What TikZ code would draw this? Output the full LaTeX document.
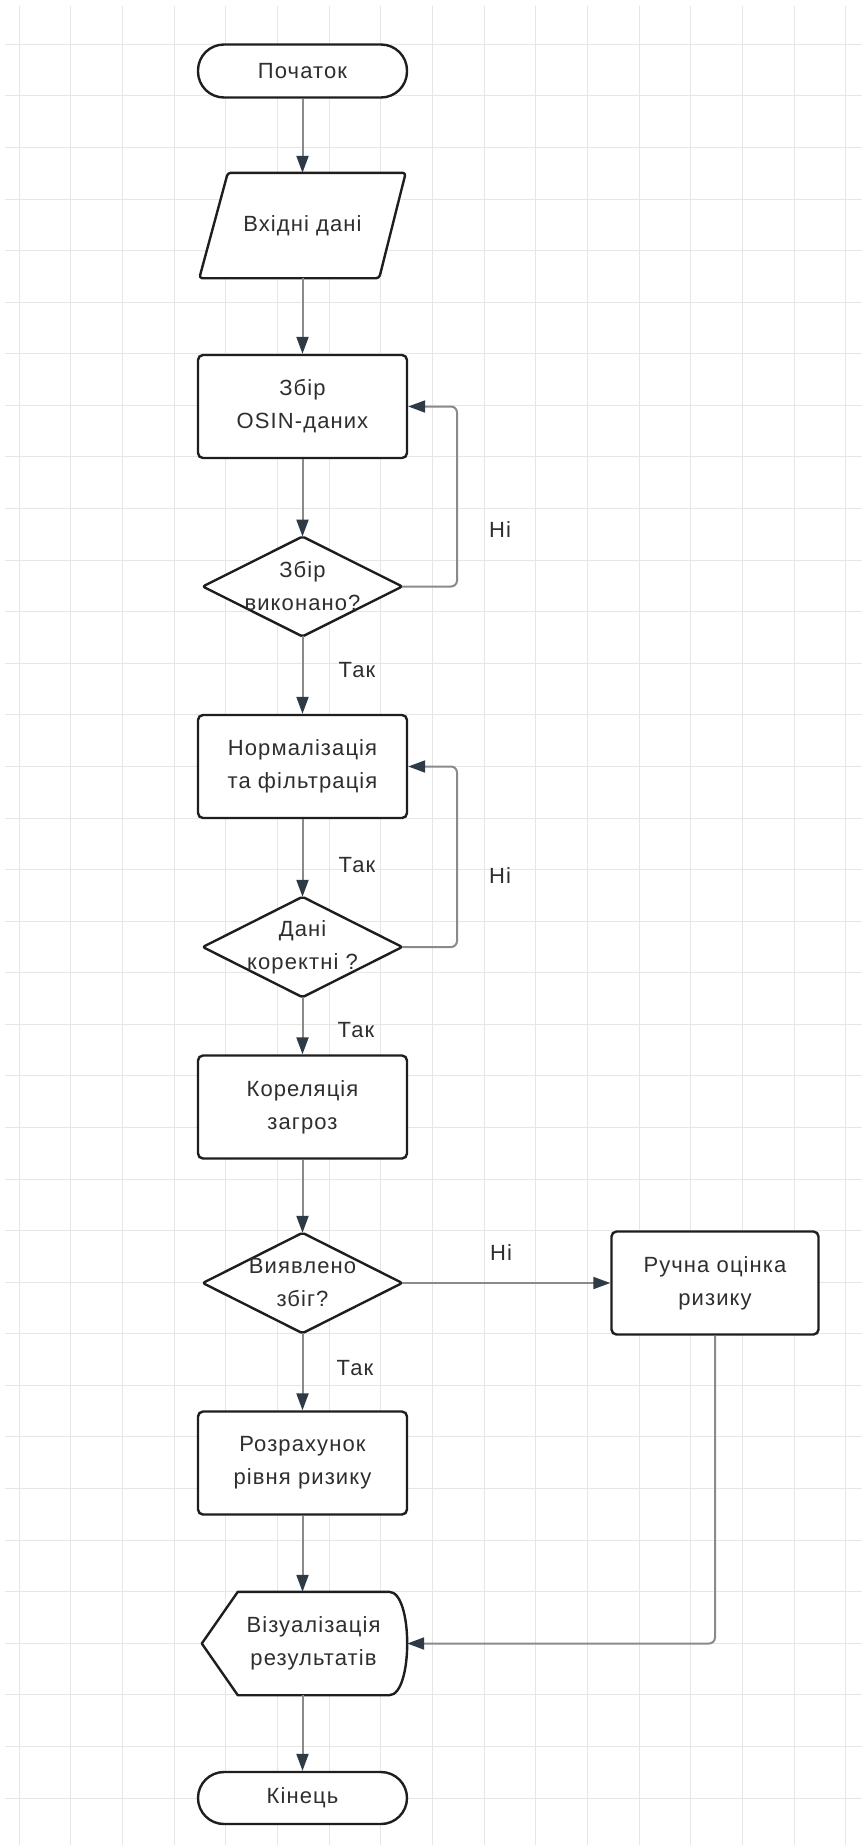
\documentclass[tikz,border=0pt]{standalone}
\usepackage{fontspec}
\setmainfont[LetterSpace=5]{Liberation Sans}
\usetikzlibrary{arrows.meta,calc}
\definecolor{gridc}{HTML}{E6E6E6}
\definecolor{outl}{HTML}{1E1E1E}
\definecolor{conc}{HTML}{8A8A8A}
\definecolor{tipc}{HTML}{2E3A46}
\definecolor{txtc}{HTML}{2E2E2E}
\pgfdeclarelayer{bg}
\pgfdeclarelayer{shp}
\pgfsetlayers{bg,shp,main}
\tikzset{
  gridline/.style={draw=gridc, line width=1pt},
  box/.style={draw=outl, line width=2.4pt, fill=white, rounded corners=5pt,
    minimum width=209pt, minimum height=103pt, align=center, inner sep=0pt},
  term/.style={draw=outl, line width=2.4pt, fill=white, rounded corners=26pt,
    minimum width=209pt, minimum height=53pt, inner sep=0pt},
  ghost/.style={inner sep=0pt, align=center},
  outline/.style={draw=outl, line width=2.4pt, fill=white, line join=round},
  conn/.style={draw=conc, line width=2pt, -{Triangle[length=17pt,width=12pt,color=tipc]}},
  lbl/.style={inner sep=0pt, text=txtc}
}
\begin{document}
\begin{tikzpicture}[x=1pt, y=-1pt, font=\fontsize{22}{33}\selectfont, text=txtc]
\useasboundingbox (0,0) rectangle (862,1845);
% background and grid
\begin{pgfonlayer}{bg}
\fill[white] (0,0) rectangle (862,1845);
\foreach \k in {0,...,16}{
  \draw[gridline] ({19.3+51.65*\k},6) -- ({19.3+51.65*\k},1845);
}
\foreach \k in {0,...,34}{
  \draw[gridline] (5,{44.3+51.58*\k}) -- (862,{44.3+51.58*\k});
}
\end{pgfonlayer}

% nodes
\node[term] (st) at (302.5,71) {Початок};
\node[ghost, minimum width=206pt, minimum height=105pt] (inp) at (302.5,225.5) {Вхідні дані};
\node[box] (b1) at (302.5,406.5) {Збір\\OSIN-даних};
\node[ghost, minimum width=199pt, minimum height=99.5pt] (d1) at (302.5,586.5) {Збір\\виконано?};
\node[box] (b2) at (302.5,766.5) {Нормалізація\\та фільтрація};
\node[ghost, minimum width=199pt, minimum height=100pt] (d2) at (302.5,947) {Дані\\коректні ?};
\node[box] (b3) at (302.5,1107) {Кореляція\\загроз};
\node[ghost, minimum width=199pt, minimum height=100pt] (d3) at (302.5,1283) {Виявлено\\збіг?};
\node[box, minimum width=207pt] (man) at (715,1283) {Ручна оцінка\\ризику};
\node[box] (b4) at (302.5,1463) {Розрахунок\\рівня ризику};
\node[ghost, minimum width=187pt, minimum height=103pt] (disp) at (313.5,1643.5) {Візуалізація\\результатів};
\node[term, minimum height=52pt] (en) at (302.5,1798) {Кінець};

% custom outlines
\begin{pgfonlayer}{shp}
\draw[outline, rounded corners=3pt] ($(inp.north west)+(28.5,0)$) -- (inp.north east)
  -- ($(inp.south east)+(-26.5,0)$) -- (inp.south west) -- cycle;
\foreach \d in {d1,d2,d3}{
  \draw[outline, rounded corners=2pt] (\d.north) -- (\d.east) -- (\d.south) -- (\d.west) -- cycle;
}
\draw[outline] ($(disp.west)+(-18,0)$) -- ($(disp.north west)+(18,0)$)
  -- ($(disp.north east)+(-18,0)$)
  .. controls ($(disp.north east)+(6,0)$) and ($(disp.south east)+(6,0)$) ..
  ($(disp.south east)+(-18,0)$) -- ($(disp.south west)+(18,0)$) -- cycle;
\end{pgfonlayer}

% connectors
\coordinate (lp) at (457,0);
\draw[conn] (st.south) -- (inp.north);
\draw[conn] (inp.south) -- (b1.north);
\draw[conn] (b1.south) -- (d1.north);
\draw[conn, rounded corners=6pt] (d1.east) -- (d1.east -| lp) -- (b1.east -| lp) -- (b1.east);
\draw[conn] (d1.south) -- (b2.north);
\draw[conn] (b2.south) -- (d2.north);
\draw[conn, rounded corners=6pt] (d2.east) -- (d2.east -| lp) -- (b2.east -| lp) -- (b2.east);
\draw[conn] (d2.south) -- (b3.north);
\draw[conn] (b3.south) -- (d3.north);
\draw[conn] (d3.east) -- (man.west);
\draw[conn] (d3.south) -- (b4.north);
\draw[conn] (b4.south) -- (b4.south |- disp.north);
\draw[conn, rounded corners=6pt] (man.south) |- (disp.east);
\draw[conn] (en.north |- disp.south) -- (en.north);

% labels
\node[lbl] (n1) at (500,530) {Ні};
\node[lbl] (y1) at (357,670) {Так};
\node[lbl] (y2) at (357,865) {Так};
\node[lbl] (n2) at (500,876) {Ні};
\node[lbl] (y3) at (356,1030) {Так};
\node[lbl] (n3) at (501,1253) {Ні};
\node[lbl] (y4) at (355,1368) {Так};
\end{tikzpicture}
\end{document}
